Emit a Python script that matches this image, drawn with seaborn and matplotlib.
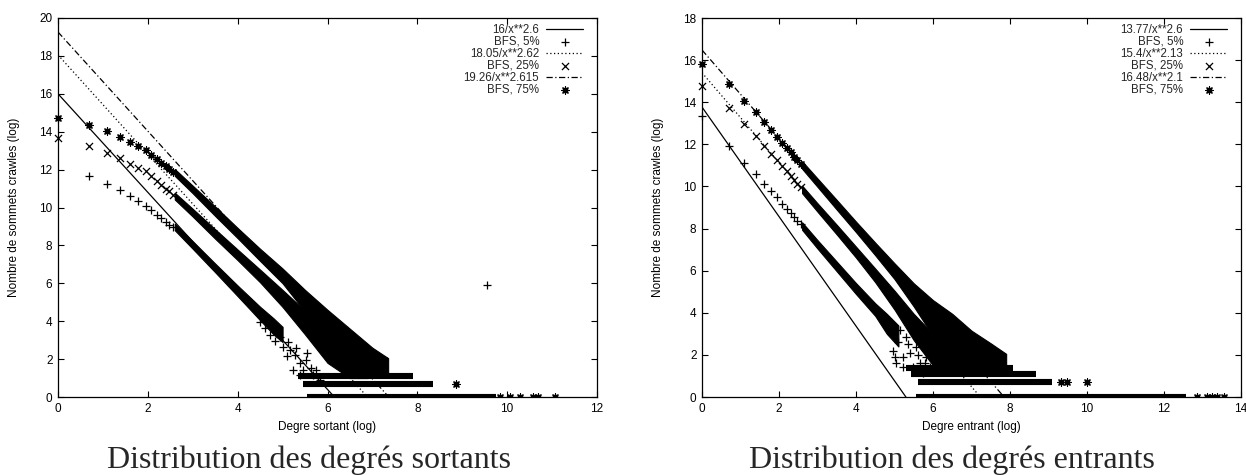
import numpy as np
import matplotlib
matplotlib.use("Agg")
import matplotlib.pyplot as plt
import seaborn as sns

# ---------------- data ----------------
series_labels = ["BFS, 5%", "BFS, 25%", "BFS, 75%"]

# fitted power laws (log-log straight lines: y = c - a*x), values from the legend
out_fit_labels = ["16/x**2.6", "18.05/x**2.62", "19.26/x**2.615"]
out_fit_c = [16.0, 18.05, 19.26]
out_fit_a = [2.6, 2.62, 2.615]
in_fit_labels = ["13.77/x**2.6", "15.4/x**2.13", "16.48/x**2.1"]
in_fit_c = [13.77, 15.4, 16.48]
in_fit_a = [2.6, 2.13, 2.1]

# --- out-degree panel: first distinct points (log degree, log count)
out5_x = [0.69, 1.10, 1.39, 1.61, 1.79, 1.95, 2.08, 2.20, 2.30, 2.40, 2.48, 2.56]
out5_y = [11.66, 11.26, 10.91, 10.61, 10.35, 10.07, 9.86, 9.63, 9.45, 9.25, 9.10, 8.95]
out25_x = [0.0, 0.69, 1.10, 1.39, 1.61, 1.79, 1.95, 2.08, 2.20, 2.30, 2.40, 2.48, 2.56]
out25_y = [13.66, 13.26, 12.89, 12.61, 12.31, 12.10, 11.91, 11.65, 11.41, 11.21, 11.00, 10.85, 10.68]
out75_x = [0.0, 0.69, 1.10, 1.39, 1.61, 1.79, 1.95, 2.08, 2.20, 2.30, 2.40, 2.48, 2.56]
out75_y = [14.72, 14.33, 14.02, 13.70, 13.45, 13.23, 13.02, 12.79, 12.56, 12.37, 12.18, 12.03, 11.88]

# dense part of each series: band edges
out5_band_x = [2.6, 3.0, 3.5, 4.0, 4.5, 4.8, 5.0]
out5_band_hi = [9.15, 8.22, 7.04, 5.88, 4.76, 4.15, 3.70]
out5_band_lo = [8.80, 7.82, 6.58, 5.32, 4.05, 3.30, 2.90]
out25_band_x = [2.6, 3.0, 3.5, 4.0, 4.5, 5.0, 5.5, 6.0, 6.5, 6.9]
out25_band_hi = [10.78, 9.93, 8.85, 7.78, 6.72, 5.65, 4.55, 3.45, 2.50, 1.80]
out25_band_lo = [10.42, 9.52, 8.35, 7.22, 6.05, 4.75, 3.30, 1.80, 1.00, 1.00]
out75_band_x = [2.6, 3.0, 3.5, 4.0, 4.5, 5.0, 5.5, 6.0, 6.5, 7.0, 7.35]
out75_band_hi = [12.03, 11.15, 10.05, 8.92, 7.82, 6.78, 5.65, 4.60, 3.60, 2.60, 2.05]
out75_band_lo = [11.67, 10.75, 9.55, 8.38, 7.18, 6.00, 4.50, 2.90, 1.40, 1.10, 1.10]

# scattered points of the 5% series at low counts
out5_cloud_x = [4.49, 4.60, 4.71, 4.86, 4.83, 4.94, 5.01, 5.16, 5.09, 5.27, 5.38, 5.53,
                5.23, 5.46, 5.64, 5.68, 5.38, 5.83, 5.12, 5.30, 5.55, 5.75, 9.56]
out5_cloud_y = [3.98, 3.63, 3.28, 3.54, 2.93, 3.19, 2.66, 2.49, 2.14, 2.23, 1.79, 1.96,
                1.44, 1.44, 1.53, 1.17, 1.17, 0.91, 2.90, 2.60, 2.30, 1.40, 5.91]

# horizontal rows at count = 1, 2, 3 (log = 0, 0.69, 1.10)
out_row_y = [0.0, 0.693, 1.099]
out_row_start = [5.55, 5.45, 5.34]
out_row_end = [9.76, 8.35, 7.90]
# isolated 75% points beyond the rows
out75_iso_x = [9.84, 10.06, 10.28, 10.58, 10.69, 11.06, 8.85, 7.25]
out75_iso_y = [0.0, 0.0, 0.0, 0.0, 0.0, 0.0, 0.693, 1.95]

# --- in-degree panel
in5_x = [0.0, 0.69, 1.10, 1.39, 1.61, 1.79, 1.95, 2.08, 2.20, 2.30, 2.40, 2.48, 2.56]
in5_y = [13.36, 11.94, 11.10, 10.57, 10.13, 9.78, 9.49, 9.18, 8.95, 8.75, 8.55, 8.38, 8.22]
in25_x = [0.0, 0.69, 1.10, 1.39, 1.61, 1.79, 1.95, 2.08, 2.20, 2.30, 2.40, 2.48, 2.56]
in25_y = [14.76, 13.71, 12.97, 12.39, 11.94, 11.55, 11.26, 10.98, 10.72, 10.50, 10.30, 10.12, 9.95]
in75_x = [0.0, 0.69, 1.10, 1.39, 1.61, 1.79, 1.95, 2.08, 2.20, 2.30, 2.40, 2.48, 2.56]
in75_y = [15.81, 14.87, 14.08, 13.52, 13.05, 12.69, 12.37, 12.07, 11.83, 11.62, 11.42, 11.25, 11.08]

in5_band_x = [2.6, 3.0, 3.5, 4.0, 4.5, 4.8, 5.1]
in5_band_hi = [8.30, 7.45, 6.43, 5.41, 4.45, 3.95, 3.40]
in5_band_lo = [7.94, 7.05, 5.97, 4.89, 3.85, 3.00, 2.40]
in25_band_x = [2.6, 3.0, 3.5, 4.0, 4.5, 5.0, 5.5, 6.0, 6.5, 7.0]
in25_band_hi = [10.04, 9.20, 8.18, 7.14, 6.10, 5.05, 3.95, 3.00, 2.30, 1.70]
in25_band_lo = [9.68, 8.80, 7.72, 6.62, 5.45, 4.15, 2.70, 1.50, 1.10, 1.00]
in75_band_x = [2.6, 3.0, 3.5, 4.0, 4.5, 5.0, 5.5, 6.0, 6.5, 7.0, 7.5, 7.9]
in75_band_hi = [11.20, 10.38, 9.36, 8.33, 7.33, 6.35, 5.40, 4.60, 3.95, 3.15, 2.55, 2.05]
in75_band_lo = [10.84, 9.98, 8.90, 7.83, 6.73, 5.60, 4.30, 2.90, 1.80, 1.30, 1.30, 1.30]

in5_cloud_x = [4.95, 5.13, 5.30, 5.21, 5.04, 5.39, 5.56, 5.65, 5.47, 5.82, 5.91, 5.73,
               5.21, 5.10, 5.35, 5.60, 5.80, 5.00]
in5_cloud_y = [2.20, 3.18, 2.86, 1.91, 1.60, 2.07, 2.38, 1.60, 1.44, 1.91, 1.44, 1.12,
               1.44, 2.60, 2.50, 2.00, 1.60, 1.90]

in_row_y = [0.0, 0.693, 1.099, 1.386]
in_row_start = [5.56, 5.60, 5.43, 5.30]
in_row_end = [12.56, 9.10, 8.67, 8.07]
in75_iso_x = [12.86, 13.12, 13.25, 13.38, 13.55, 9.32, 9.49, 10.01, 7.46, 7.80]
in75_iso_y = [0.0, 0.0, 0.0, 0.0, 0.0, 0.693, 0.693, 0.693, 1.94, 1.94]

captions = ["Distribution des degrés sortants", "Distribution des degrés entrants"]

# ---------------- styling ----------------
sns.set_theme(style="ticks")
plt.rcParams["font.family"] = ["Liberation Sans", "DejaVu Sans"]

MARKERS = ["+", "x", (8, 2, 0)]
FIT_STYLES = ["-", (0, (1, 2)), (0, (5, 2, 1, 2))]
SMALL = 8.5
W, H = 1246, 475


def draw_panel(ax, fit_labels, fit_c, fit_a, heads, bands, cloud, rows, iso,
               xmax, ymax, xlabel):
    # fit lines
    for lab, c, a, ls in zip(fit_labels, fit_c, fit_a, FIT_STYLES):
        sns.lineplot(x=[0.0, c / a], y=[c, 0.0], ax=ax, color="black",
                     linewidth=0.9, linestyle=ls, label=lab)
    # dense parts of the series
    for bx, lo, hi in bands:
        ax.fill_between(bx, lo, hi, color="black", linewidth=0.8)
    # rows at smallest counts
    ry, rs, re = rows
    ax.hlines(ry, rs, re, color="black", linewidth=4.4)
    # first distinct points
    for (hx, hy), lab, mk in zip(heads, series_labels, MARKERS):
        sns.scatterplot(x=hx, y=hy, ax=ax, marker=mk, s=26, color="black",
                        linewidth=0.9, label=lab, clip_on=False, zorder=3)
    cx, cy = cloud
    sns.scatterplot(x=cx, y=cy, ax=ax, marker="+", s=26, color="black",
                    linewidth=0.9, zorder=3)
    ix, iy = iso
    sns.scatterplot(x=ix, y=iy, ax=ax, marker=MARKERS[2], s=26, color="black",
                    linewidth=0.9, zorder=3)

    ax.set_xlim(0, xmax)
    ax.set_ylim(0, ymax)
    ax.set_xticks(np.arange(0, xmax + 1, 2))
    ax.set_yticks(np.arange(0, ymax + 1, 2))
    ax.tick_params(direction="in", length=4, width=0.8, top=True, right=True,
                   labelsize=SMALL, pad=4, colors="black")
    for sp in ax.spines.values():
        sp.set_visible(True)
        sp.set_color("black")
        sp.set_linewidth(0.9)
    ax.set_xlabel(xlabel, fontsize=SMALL, color="black")
    ax.set_ylabel("Nombre de sommets crawles (log)", fontsize=SMALL, color="black")
    ax.xaxis.set_label_coords(0.5, -0.063)
    ax.yaxis.set_label_coords(-0.07, 0.5)

    handles, labels = ax.get_legend_handles_labels()
    hmap = dict(zip(labels, handles))
    order = [fit_labels[0], series_labels[0], fit_labels[1], series_labels[1],
             fit_labels[2], series_labels[2]]
    ax.legend([hmap[o] for o in order], order, loc="upper right",
              bbox_to_anchor=(0.974, 0.985), frameon=False, markerfirst=False,
              handlelength=3.2, handletextpad=0.6, labelspacing=0.0,
              borderpad=0, borderaxespad=0, fontsize=8.3, scatterpoints=1)


fig = plt.figure(figsize=(W / 100, H / 100), dpi=100)
fig.patch.set_facecolor("white")
ax1 = fig.add_axes([58 / W, (H - 397) / H, 539 / W, 379 / H])
ax2 = fig.add_axes([702 / W, (H - 397) / H, 539 / W, 379 / H])

draw_panel(ax1, out_fit_labels, out_fit_c, out_fit_a,
           [(out5_x, out5_y), (out25_x, out25_y), (out75_x, out75_y)],
           [(out5_band_x, out5_band_lo, out5_band_hi),
            (out25_band_x, out25_band_lo, out25_band_hi),
            (out75_band_x, out75_band_lo, out75_band_hi)],
           (out5_cloud_x, out5_cloud_y),
           (out_row_y, out_row_start, out_row_end),
           (out75_iso_x, out75_iso_y),
           12, 20, "Degre sortant (log)")

draw_panel(ax2, in_fit_labels, in_fit_c, in_fit_a,
           [(in5_x, in5_y), (in25_x, in25_y), (in75_x, in75_y)],
           [(in5_band_x, in5_band_lo, in5_band_hi),
            (in25_band_x, in25_band_lo, in25_band_hi),
            (in75_band_x, in75_band_lo, in75_band_hi)],
           (in5_cloud_x, in5_cloud_y),
           (in_row_y, in_row_start, in_row_end),
           (in75_iso_x, in75_iso_y),
           14, 18, "Degre entrant (log)")

for cx_px, cap in zip([309, 952], captions):
    fig.text(cx_px / W, 1 - 460 / H, cap, ha="center", va="center", fontsize=23,
             family=["Liberation Serif", "DejaVu Serif"])

fig.savefig("out.png", dpi=100, facecolor="white")
